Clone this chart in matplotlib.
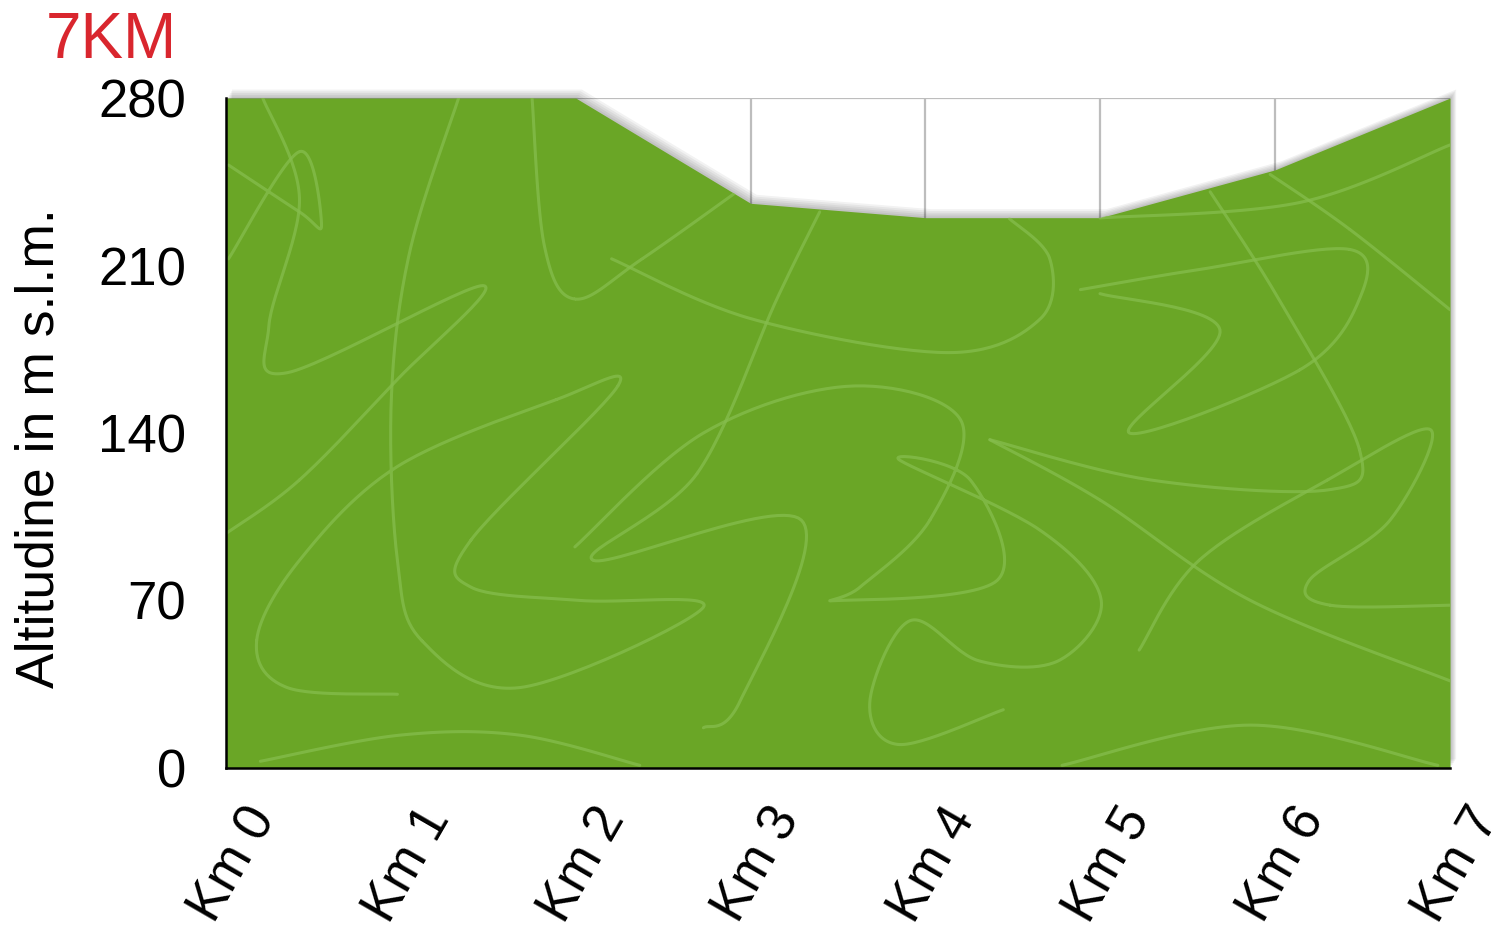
import numpy as np
import matplotlib
matplotlib.use('Agg')
import matplotlib.pyplot as plt
import matplotlib.transforms as mtransforms

plt.rcParams['font.family'] = ['Liberation Sans', 'DejaVu Sans']

## profile data
km = [0, 1, 2, 3, 4, 5, 6, 7]
altitude = [280, 280, 280, 236, 230, 230, 250, 280]
km_labels = ['Km 0', 'Km 1', 'Km 2', 'Km 3', 'Km 4', 'Km 5', 'Km 6', 'Km 7']
y_ticks = [0, 70, 140, 210, 280]
title = '7KM'
y_title = 'Altitudine in m s.l.m.'

fill_color = '#6aa626'
line_color = '#86bd4d'
title_color = '#d9262e'

## decorative squiggles of the background texture (axes fraction)
texture = [
    [(0.03, 1.0), (0.06, 0.85), (0.035, 0.66), (0.05, 0.59), (0.21, 0.72), (0.14, 0.58), (0.06, 0.43), (0.0, 0.35)],
    [(0.19, 1.0), (0.15, 0.77), (0.135, 0.55), (0.14, 0.31), (0.16, 0.19), (0.24, 0.12), (0.39, 0.24), (0.29, 0.25),
     (0.2, 0.27), (0.2, 0.34), (0.32, 0.57), (0.27, 0.55), (0.14, 0.45), (0.06, 0.31), (0.025, 0.19), (0.05, 0.12), (0.14, 0.11)],
    [(0.25, 1.0), (0.26, 0.78), (0.285, 0.7), (0.34, 0.76), (0.44, 0.89)],
    [(0.315, 0.76), (0.43, 0.67), (0.59, 0.62), (0.665, 0.67), (0.673, 0.76), (0.64, 0.82)],
    [(0.485, 0.83), (0.45, 0.7), (0.385, 0.44), (0.3, 0.31), (0.47, 0.37), (0.42, 0.1), (0.39, 0.06)],
    [(0.285, 0.33), (0.39, 0.5), (0.51, 0.57), (0.6, 0.52), (0.575, 0.37), (0.518, 0.27), (0.5, 0.25), (0.63, 0.28),
     (0.608, 0.43), (0.55, 0.46), (0.665, 0.355), (0.715, 0.25), (0.68, 0.16), (0.615, 0.16), (0.559, 0.22), (0.526, 0.1), (0.55, 0.035), (0.635, 0.087)],
    [(0.698, 0.714), (0.795, 0.744), (0.918, 0.774), (0.926, 0.7), (0.877, 0.594), (0.738, 0.5), (0.812, 0.654), (0.714, 0.708)],
    [(0.624, 0.49), (0.755, 0.43), (0.9, 0.415), (0.926, 0.475), (0.86, 0.7), (0.804, 0.86)],
    [(0.624, 0.49), (0.714, 0.4), (0.837, 0.25), (1.0, 0.13)],
    [(0.746, 0.176), (0.795, 0.31), (0.9, 0.43), (0.984, 0.505), (0.951, 0.37), (0.885, 0.28), (0.902, 0.243), (1.0, 0.243)],
    [(0.853, 0.886), (0.918, 0.804), (1.0, 0.684)],
    [(0.714, 0.821), (0.877, 0.844), (1.0, 0.93)],
    [(0.028, 0.01), (0.142, 0.049), (0.24, 0.049), (0.338, 0.004)],
    [(0.683, 0.004), (0.837, 0.064), (0.99, 0.004)],
    [(0.002, 0.9), (0.06, 0.83), (0.078, 0.81), (0.06, 0.92), (0.002, 0.76)],
]


def catmull_rom(pts, n=30):
    p = np.array(pts, dtype=float)
    p = np.vstack([p[0], p, p[-1]])
    out = []
    for i in range(1, len(p) - 2):
        p0, p1, p2, p3 = p[i - 1], p[i], p[i + 1], p[i + 2]
        t = np.linspace(0, 1, n)[:, None]
        seg = 0.5 * ((2 * p1) + (-p0 + p2) * t + (2 * p0 - 5 * p1 + 4 * p2 - p3) * t ** 2
                     + (-p0 + 3 * p1 - 3 * p2 + p3) * t ** 3)
        out.append(seg)
    return np.vstack(out)


fig = plt.figure(figsize=(14.98, 9.31), dpi=100)
ax = fig.add_axes([0.1509, 0.1751, 0.8171, 0.7196])

ax.set_xlim(km[0], km[-1])
ax.set_ylim(0, 280)

## grid
ax.set_xticks(km)
ax.set_yticks(y_ticks)
ax.grid(True, color='#bdbdbd', linewidth=1.6, zorder=0)
ax.set_axisbelow(True)

## soft shadow around the profile (slightly up and right)
for i in range(5):
    off = mtransforms.ScaledTranslation((i + 1) * 0.8 / 72, (i + 1) * 1.3 / 72, fig.dpi_scale_trans)
    ax.fill_between(km, altitude, 0, color='black', alpha=0.05, linewidth=0,
                    transform=ax.transData + off, zorder=1, clip_on=False)

area = ax.fill_between(km, altitude, 0, color=fill_color, linewidth=0, zorder=2)
clip = area.get_paths()[0]

for pts in texture:
    c = catmull_rom(pts)
    ln, = ax.plot(c[:, 0], c[:, 1], color=line_color, lw=2.2, alpha=0.75,
                  transform=ax.transAxes, zorder=3, solid_capstyle='round')
    ln.set_clip_path(clip, ax.transData)

for s in ['top', 'right']:
    ax.spines[s].set_visible(False)
for s in ['left', 'bottom']:
    ax.spines[s].set_color('black')
    ax.spines[s].set_linewidth(1.8)
    ax.spines[s].set_zorder(5)

ax.tick_params(length=0)
ax.tick_params(axis='y', pad=29, labelsize=38)
ax.tick_params(axis='x', pad=22, labelsize=38)
ax.set_yticklabels([str(v) for v in y_ticks])
ax.set_xticklabels(km_labels, rotation=60, ha='center', va='top')
shift = mtransforms.ScaledTranslation(7 / 100, 0, fig.dpi_scale_trans)
for lab in ax.get_xticklabels():
    lab.set_transform(lab.get_transform() + shift)

fig.text(40 / 1498, 1 - 448 / 931, y_title, rotation=90, ha='center', va='center', fontsize=38.5)
fig.text(46 / 1498, 1 - 58 / 931, title, color=title_color, fontsize=46, ha='left', va='baseline')

fig.savefig('out.png', dpi=100)
